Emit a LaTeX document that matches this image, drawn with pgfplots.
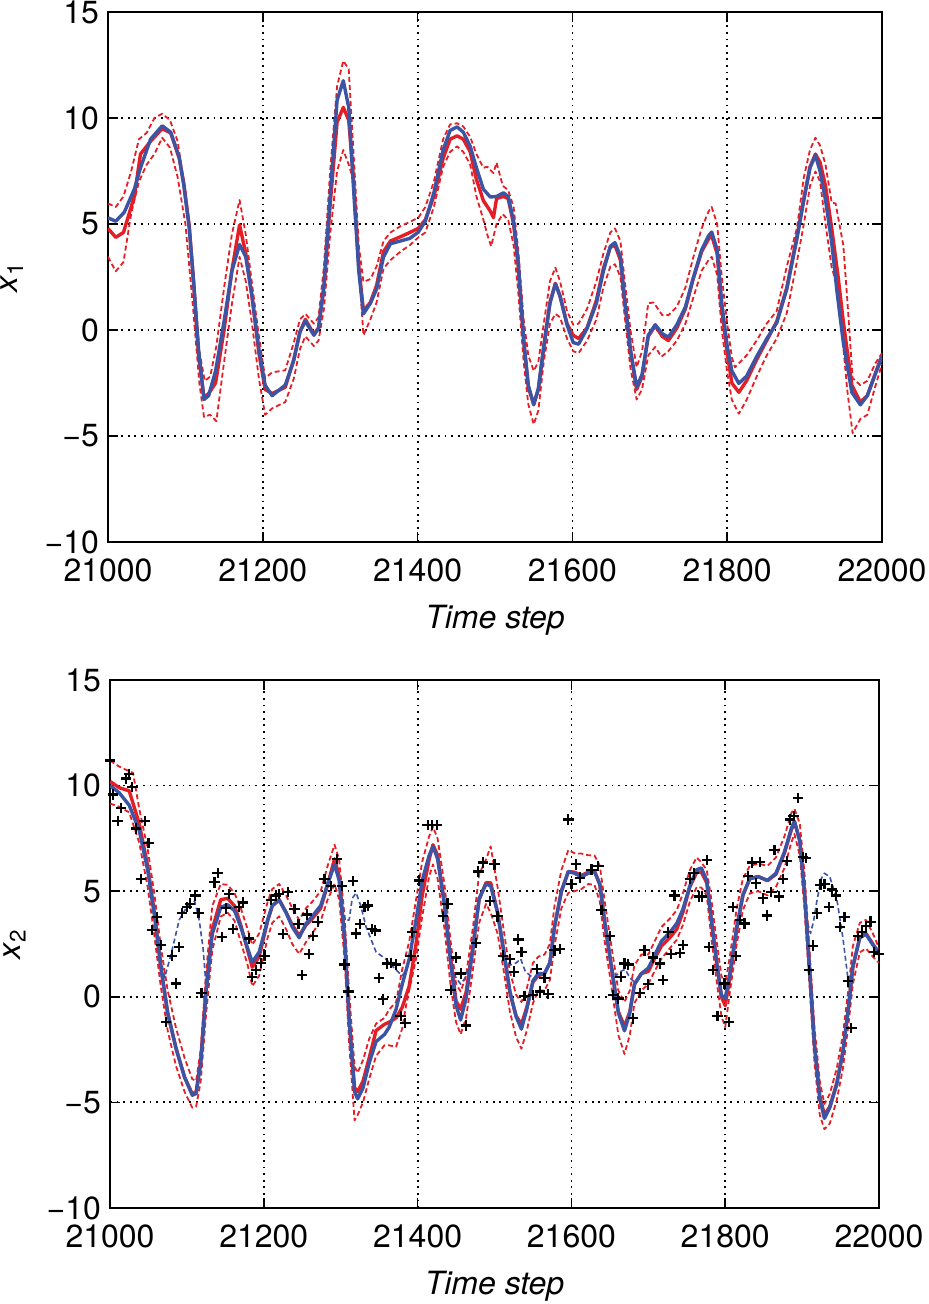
\documentclass[border=0pt]{standalone}
\usepackage{pgfplots}
\pgfplotsset{compat=1.18}
\usepackage{fontspec}
\setmainfont{TeX Gyre Heros}
\definecolor{myred}{RGB}{228,30,36}
\definecolor{myblue}{RGB}{59,84,164}
\pgfplotsset{
  myax/.style={
    scale only axis,
    anchor=south west,
    xmin=21000, xmax=22000, ymin=-10, ymax=15,
    scaled x ticks=false, scaled y ticks=false,
    xtick={21000,21200,21400,21600,21800,22000},
    xticklabels={21000,21200,21400,21600,21800,22000},
    ytick={-10,-5,0,5,10,15},
    yticklabels={−10,−5,0,5,10,15},
    tick align=inside,
    major tick length=5pt,
    tick style={black, line width=0.8pt},
    axis line style={black, line width=1pt},
    grid=major,
    major grid style={black, line width=0.9pt, dash pattern=on 0.9pt off 2.4pt},
    tick label style={font=\fontsize{16}{19}\selectfont},
    xticklabel style={yshift=-5pt},
    yticklabel style={xshift=-1pt},
    label style={font=\fontsize{16}{19}\selectfont},
    xlabel={\textit{Time step}},
    xlabel style={at={(axis description cs:0.5,-0.148)}, anchor=center},
    ylabel style={at={(axis description cs:-0.124,0.5)}, anchor=center},
  },
  every axis plot/.append style={line join=round},
  rdash/.style={myred, line width=0.9pt, dash pattern=on 2.5pt off 1.5pt},
  rsol/.style={myred, line width=1.7pt},
  bsol/.style={myblue, line width=1.7pt},
  bdash/.style={myblue, line width=0.8pt, dash pattern=on 2.5pt off 1.5pt},
}
\begin{document}
\begin{tikzpicture}
\useasboundingbox (0,0) rectangle (464pt,652pt);
% ---------------- top panel ----------------
\begin{axis}[myax, at={(54pt,381pt)}, width=387pt, height=265pt,
  ylabel={\textit{x}\textsubscript{1}}]
\addplot[rdash] table {
x y
21000 5.97
21010 5.8
21020 6.3
21030 7.5
21040 9.0
21050 9.3
21060 10.0
21070 10.2
21080 9.9
21090 8.9
21100 6.5
21110 3.0
21118 -1.0
21125 -2.4
21132 -2.2
21140 -0.76
21150 2.0
21160 4.5
21170 6.13
21178 4.5
21186 2.2
21195 -0.3
21203 -2.27
21212 -2.0
21229 -1.9
21240 -0.6
21248 0.5
21255 0.76
21266 0.3
21272 0.6
21279 3.0
21287 7.5
21296 11.5
21304 12.7
21311 12.3
21317 8.5
21324 4.0
21330 2.27
21339 2.4
21347 3.0
21356 4.2
21365 4.6
21378 4.9
21390 5.1
21401 5.3
21410 5.8
21421 7.0
21433 9.0
21442 9.7
21451 9.75
21459 9.6
21468 9.1
21476 8.3
21485 7.65
21490 7.7
21498 7.4
21502 7.9
21510 6.8
21517 6.6
21524 5.8
21530 3.8
21537 0.5
21543 -1.2
21550 -1.93
21556 -1.5
21563 0.3
21571 2.3
21578 2.94
21584 2.3
21593 0.9
21601 0.25
21608 0.3
21619 1.0
21631 2.3
21640 3.6
21649 4.6
21655 4.79
21662 4.2
21668 2.2
21675 0.0
21683 -1.76
21690 -1.0
21698 1.26
21705 1.3
21716 0.7
21724 0.7
21735 1.1
21746 2.0
21756 3.4
21767 4.8
21776 5.6
21780 5.8
21787 5.0
21793 2.5
21800 0.3
21806 -1.3
21810 -1.76
21825 -1.2
21838 -0.5
21851 0.3
21864 0.9
21877 3.0
21890 4.79
21899 7.2
21907 8.5
21914 9.07
21920 8.7
21927 7.8
21935 6.0
21940 5.97
21950 4.0
21955 1.5
21962 -2.27
21972 -2.6
21981 -2.4
21991 -1.6
22000 -1.09
};
\addplot[rdash] table {
x y
21000 3.45
21010 2.77
21020 3.2
21030 5.5
21040 7.0
21050 7.8
21060 8.3
21070 9.07
21080 8.6
21090 7.2
21100 5.0
21110 1.0
21118 -2.5
21124 -4.1
21132 -4.0
21140 -4.3
21150 -1.5
21160 1.2
21170 3.45
21178 2.3
21186 0.3
21195 -2.3
21203 -4.0
21212 -3.7
21229 -3.4
21240 -2.3
21248 -0.9
21255 -0.3
21266 -0.76
21272 -0.5
21279 1.0
21287 4.5
21296 7.5
21304 8.49
21311 7.8
21317 7.1
21324 3.0
21330 -0.25
21339 0.5
21347 1.3
21356 2.9
21365 3.3
21378 3.7
21390 4.0
21401 4.37
21410 4.6
21421 5.8
21433 7.7
21442 8.4
21451 8.66
21459 8.4
21468 7.8
21476 6.3
21485 5.2
21490 4.5
21495 3.95
21502 5.0
21510 5.46
21517 5.2
21524 4.0
21530 1.8
21537 -1.5
21543 -3.5
21550 -4.45
21556 -3.8
21563 -1.5
21571 0.3
21578 0.76
21584 0.6
21593 -0.4
21601 -1.0
21608 -1.09
21619 -0.5
21631 0.5
21640 2.0
21649 3.0
21655 3.1
21662 2.5
21668 0.5
21675 -1.8
21683 -3.28
21690 -2.8
21698 -1.2
21707 -0.8
21715 -1.26
21724 -1.0
21735 -0.5
21746 0.3
21756 1.5
21767 2.8
21776 3.3
21780 3.45
21787 2.6
21793 0.0
21800 -2.0
21806 -3.3
21815 -3.95
21825 -3.3
21838 -2.2
21851 -1.2
21864 -0.4
21877 0.8
21890 3.2
21899 5.0
21907 6.8
21914 7.48
21920 7.0
21927 5.0
21935 2.94
21943 2.0
21950 -0.8
21955 -2.8
21962 -4.87
21972 -4.2
21981 -4.0
21991 -2.7
22000 -1.6
};
\addplot[rsol] table {
x y
21000 4.79
21010 4.37
21020 4.6
21034 6.3
21042 8.3
21055 8.9
21070 9.5
21081 9.3
21092 8.1
21098 6.9
21105 4.9
21111 2.0
21117 -1.2
21124 -3.2
21130 -3.0
21139 -2.5
21150 0.0
21160 2.8
21170 4.96
21178 3.6
21186 1.6
21195 -1.1
21203 -2.8
21212 -3.0
21229 -2.7
21240 -1.4
21248 -0.1
21255 0.5
21266 -0.2
21272 0.1
21279 2.0
21287 5.9
21296 9.8
21304 10.5
21311 9.9
21317 7.2
21324 3.0
21330 0.9
21339 1.3
21347 2.1
21356 3.7
21365 4.2
21378 4.4
21390 4.6
21401 4.8
21410 5.2
21421 6.3
21433 8.1
21442 9.0
21451 9.16
21459 9.0
21468 8.4
21476 7.1
21485 6.1
21494 5.6
21498 5.3
21502 6.2
21511 6.3
21517 6.2
21524 5.0
21530 3.0
21537 -0.5
21543 -2.7
21550 -3.5
21556 -2.8
21563 -0.8
21571 1.3
21578 2.2
21584 1.6
21593 0.3
21601 -0.25
21608 -0.4
21619 0.1
21631 1.4
21640 2.9
21649 3.9
21655 4.0
21662 3.3
21668 1.2
21675 -1.0
21683 -2.8
21690 -2.2
21698 -0.3
21707 0.2
21716 -0.3
21724 -0.5
21735 0.1
21746 1.0
21756 2.4
21767 3.7
21776 4.3
21780 4.45
21787 3.6
21793 1.0
21800 -1.1
21806 -2.5
21815 -2.94
21825 -2.4
21838 -1.4
21851 -0.5
21864 0.4
21877 2.0
21890 4.4
21899 6.2
21907 7.7
21914 8.3
21920 7.9
21927 6.8
21935 4.8
21943 2.6
21950 0.4
21961 -2.6
21972 -3.4
21981 -3.1
21991 -2.1
22000 -1.2
};
\addplot[bsol] table {
x y
21000 5.29
21010 5.13
21021 5.55
21034 6.64
21042 7.65
21055 9.0
21070 9.63
21081 9.33
21092 8.15
21098 6.8
21105 4.79
21111 2.1
21117 -0.92
21124 -3.28
21130 -3.1
21139 -1.93
21150 0.42
21160 2.77
21170 4.03
21178 3.45
21186 1.6
21195 -0.92
21203 -2.6
21212 -3.1
21229 -2.6
21240 -1.43
21248 -0.08
21255 0.42
21266 -0.25
21272 0.08
21279 2.1
21287 6.3
21296 10.84
21304 11.76
21311 10.5
21317 6.8
21324 2.77
21330 0.76
21339 1.26
21347 1.93
21356 3.45
21365 4.07
21378 4.2
21390 4.32
21401 4.62
21410 5.13
21421 6.47
21433 8.49
21442 9.41
21451 9.58
21459 9.33
21468 8.66
21476 7.65
21485 6.64
21494 6.27
21502 6.3
21511 6.47
21517 6.3
21524 5.13
21530 3.2
21537 -0.42
21543 -2.6
21550 -3.53
21556 -2.77
21563 -0.76
21571 1.26
21578 2.18
21584 1.6
21593 0.25
21601 -0.59
21608 -0.67
21619 0.08
21631 1.26
21640 2.77
21649 3.95
21655 4.12
21662 3.45
21668 1.26
21675 -0.92
21683 -2.69
21690 -2.1
21698 -0.25
21707 0.25
21716 -0.17
21724 -0.34
21735 0.25
21746 1.09
21756 2.44
21767 3.78
21776 4.45
21780 4.62
21787 3.78
21793 1.26
21800 -0.76
21806 -1.93
21815 -2.52
21825 -2.18
21838 -1.26
21851 -0.42
21864 0.34
21877 1.93
21890 4.29
21899 6.13
21907 7.65
21914 8.24
21920 7.48
21927 6.13
21935 4.12
21942 1.76
21950 -0.59
21961 -2.94
21972 -3.53
21981 -3.1
21991 -2.1
22000 -1.26
};
\end{axis}
% ---------------- bottom panel ----------------
\begin{axis}[myax, at={(55pt,48pt)}, width=384.5pt, height=264pt,
  ylabel={\textit{x}\textsubscript{2}}]
\addplot[rdash] table {
x y
21000 11.19
21012 10.9
21025 10.68
21030 10.6
21038 8.9
21049 7.0
21058 4.8
21066 2.4
21075 0.3
21086 -1.5
21097 -2.9
21107 -3.9
21112 -3.98
21118 -2.5
21125 1.2
21133 4.3
21144 5.34
21153 5.3
21162 4.9
21170 4.2
21179 3.2
21185 2.46
21194 3.0
21205 4.5
21211 5.1
21220 5.34
21229 4.8
21237 4.2
21246 3.64
21255 4.2
21263 4.5
21274 5.0
21283 6.2
21292 7.2
21298 6.5
21305 3.8
21311 0.2
21318 -3.3
21322 -3.6
21329 -3.0
21337 -2.0
21346 -1.27
21357 -1.0
21363 -0.6
21372 -0.25
21380 1.3
21389 2.6
21398 4.6
21406 6.4
21415 7.6
21420 8.05
21426 7.5
21435 5.3
21443 2.6
21450 0.6
21456 0.25
21463 1.0
21472 3.3
21480 5.8
21489 6.5
21495 7.12
21504 5.2
21513 2.9
21520 1.2
21528 0.1
21535 -0.25
21542 0.4
21550 1.6
21557 1.9
21565 2.0
21572 2.5
21578 4.3
21587 6.0
21596 6.95
21604 6.8
21613 6.78
21622 6.7
21630 6.69
21637 6.2
21643 4.6
21652 2.4
21661 0.3
21669 -0.25
21676 0.3
21682 1.5
21691 2.0
21700 2.0
21708 2.6
21717 3.3
21728 3.7
21737 4.1
21745 4.9
21754 6.0
21763 6.6
21769 6.36
21776 6.0
21782 4.6
21789 2.6
21795 1.0
21800 0.59
21806 1.9
21815 4.2
21823 5.6
21832 6.2
21843 6.3
21855 6.2
21866 6.6
21877 7.6
21886 8.7
21890 8.9
21897 8.2
21903 5.9
21910 2.0
21916 -1.4
21923 -4.0
21929 -5.08
21936 -4.6
21945 -3.4
21953 -1.8
21960 0.3
21966 2.4
21975 3.5
21983 3.64
21992 3.0
22000 2.3
};
\addplot[rdash] table {
x y
21000 9.15
21012 9.0
21025 8.73
21038 7.3
21049 5.2
21058 2.8
21066 0.5
21075 -1.6
21086 -3.3
21097 -4.5
21107 -5.25
21112 -5.2
21118 -4.0
21125 -0.8
21133 2.2
21144 3.8
21153 3.98
21162 3.6
21170 2.6
21179 1.5
21185 0.5
21194 1.0
21205 2.8
21211 3.5
21220 3.81
21229 3.2
21237 2.5
21246 2.03
21255 2.6
21263 3.0
21274 3.6
21283 4.6
21292 5.34
21298 4.6
21305 1.8
21311 -2.2
21318 -5.85
21322 -5.6
21329 -5.0
21337 -3.9
21346 -2.8
21357 -2.29
21363 -2.3
21372 -2.37
21380 -1.5
21385 -0.42
21389 0.3
21398 1.8
21406 3.8
21415 5.7
21420 6.27
21426 5.6
21435 3.2
21443 0.5
21450 -1.2
21456 -1.78
21463 -1.0
21472 1.3
21480 3.5
21489 4.4
21495 3.98
21504 3.0
21513 1.0
21520 -0.7
21528 -1.9
21535 -2.46
21542 -1.6
21550 -0.3
21557 0.3
21565 0.3
21572 0.8
21578 2.4
21587 4.2
21596 4.92
21604 5.0
21613 5.1
21622 5.34
21630 5.3
21637 4.5
21643 2.7
21652 0.5
21661 -1.8
21669 -2.71
21676 -1.8
21682 -0.3
21691 0.3
21700 0.6
21708 1.2
21717 1.8
21728 2.3
21737 2.7
21745 3.4
21754 4.5
21763 5.2
21769 5.17
21776 4.8
21782 2.8
21789 0.7
21795 -0.9
21800 -1.44
21806 0.2
21815 2.5
21823 4.1
21832 4.9
21843 5.0
21855 4.8
21866 5.2
21877 6.1
21886 7.3
21890 7.71
21897 6.7
21903 4.2
21910 0.3
21916 -3.1
21923 -5.6
21929 -6.27
21936 -6.0
21945 -4.9
21953 -3.4
21960 -1.4
21966 0.6
21975 2.1
21983 2.29
21992 1.9
22000 1.6
};
\addplot[rsol] table {
x y
21000 10.2
21012 9.9
21025 9.75
21038 8.2
21049 6.2
21058 3.9
21066 1.44
21075 -0.76
21086 -2.46
21097 -3.81
21107 -4.6
21112 -4.5
21118 -3.0
21125 0.4
21133 3.2
21144 4.6
21153 4.66
21162 4.3
21170 3.4
21179 2.2
21185 1.4
21194 1.9
21205 3.6
21211 4.3
21220 4.6
21229 4.0
21237 3.4
21246 2.9
21255 3.4
21263 3.7
21274 4.2
21283 5.3
21292 6.53
21298 5.7
21305 2.8
21311 -1.0
21318 -4.3
21322 -4.49
21329 -4.0
21337 -2.9
21346 -1.6
21357 -1.3
21363 -1.2
21372 -1.0
21380 -0.5
21389 0.5
21398 2.5
21406 4.8
21415 6.5
21420 7.2
21426 6.7
21435 4.4
21443 1.8
21450 -0.2
21456 -0.59
21463 0.2
21472 2.4
21480 4.6
21489 5.4
21495 5.4
21504 4.0
21513 1.9
21520 0.2
21528 -0.9
21535 -1.3
21542 -0.5
21550 0.7
21557 1.0
21565 1.1
21572 1.6
21578 3.3
21587 5.0
21596 5.93
21604 5.9
21613 5.75
21622 5.9
21630 5.95
21637 5.3
21643 3.6
21652 1.4
21661 -0.7
21669 -1.4
21676 -0.7
21682 0.6
21691 1.1
21700 1.2
21708 1.8
21717 2.4
21728 2.8
21737 3.2
21745 4.0
21754 5.2
21763 5.9
21769 5.9
21776 5.4
21782 3.6
21789 1.6
21795 0.0
21800 -0.42
21806 0.9
21815 3.2
21823 4.8
21832 5.6
21843 5.7
21855 5.5
21866 5.8
21877 6.8
21886 7.9
21890 8.3
21897 7.4
21903 5.0
21910 1.2
21916 -2.2
21923 -4.7
21929 -5.6
21936 -5.2
21945 -4.1
21953 -2.6
21960 -0.6
21966 1.4
21975 2.8
21983 3.0
21992 2.5
22000 2.0
};
\addplot[bsol] table {
x y
21000 10.0
21012 9.66
21025 9.07
21038 7.88
21049 6.0
21058 3.8
21066 1.44
21075 -0.76
21086 -2.46
21097 -3.81
21107 -4.66
21112 -4.58
21118 -3.14
21125 0.25
21133 2.97
21144 4.24
21153 4.36
21162 4.07
21170 3.31
21179 2.29
21185 1.64
21194 2.12
21205 3.64
21211 4.32
21220 4.58
21229 3.98
21237 3.31
21246 2.8
21255 3.47
21263 3.81
21274 4.32
21283 5.34
21292 6.27
21298 5.51
21305 2.8
21311 -1.1
21318 -4.49
21322 -4.83
21329 -4.32
21337 -3.14
21346 -2.12
21357 -1.78
21363 -1.44
21372 -0.59
21380 0.59
21389 1.78
21398 3.64
21406 5.51
21415 6.69
21420 7.12
21426 6.53
21435 4.32
21443 1.61
21450 -0.42
21456 -1.1
21463 -0.08
21472 2.29
21480 4.66
21489 5.34
21495 5.25
21504 3.98
21513 1.95
21520 0.25
21528 -0.93
21535 -1.53
21542 -0.59
21550 0.76
21557 1.1
21565 1.1
21572 1.61
21578 3.31
21587 5.0
21596 5.93
21604 5.85
21613 5.68
21622 5.85
21630 5.93
21637 5.34
21643 3.64
21652 1.44
21661 -0.76
21669 -1.61
21676 -0.76
21682 0.59
21691 1.1
21700 1.36
21708 1.95
21717 2.63
21728 3.05
21737 3.47
21745 4.15
21754 5.25
21763 6.02
21769 6.1
21776 5.51
21782 3.64
21789 1.61
21795 0.08
21800 -0.08
21806 1.1
21815 3.31
21823 4.83
21832 5.59
21843 5.68
21855 5.51
21866 5.85
21877 6.86
21886 7.97
21890 8.31
21897 7.37
21903 5.0
21910 1.1
21916 -2.29
21923 -4.83
21929 -5.76
21936 -5.25
21945 -4.15
21953 -2.63
21960 -0.59
21966 1.44
21975 2.8
21983 2.97
21992 2.46
22000 2.12
};
\addplot[bdash] table {
x y
21062 2.6
21071 0.9
21079 1.95
21090 3.64
21101 4.32
21110 4.53
21116 3.64
21121 2.3
21125 0.5
};
\addplot[bdash] table {
x y
21300 5.0
21306 3.6
21311 3.64
21315 4.66
21320 4.92
21326 4.32
21333 3.31
21346 2.12
21359 1.78
21372 1.27
21380 1.0
21386 1.3
};
\addplot[bdash] table {
x y
21440 2.2
21445 1.3
21450 0.9
21456 0.6
21462 0.9
21468 1.6
};
\addplot[bdash] table {
x y
21513 1.95
21520 1.5
21528 1.6
21534 1.8
21540 1.2
21550 0.9
};
\addplot[bdash] table {
x y
21652 1.44
21658 1.0
21664 1.2
21670 1.3
21676 0.9
21682 0.7
};
\addplot[bdash] table {
x y
21903 5.0
21907 3.5
21911 3.0
21915 3.6
21919 4.5
21925 5.6
21929 5.85
21936 5.68
21945 4.66
21953 2.8
21960 0.76
21964 0.3
};
\addplot[only marks, mark=+, black, mark size=2.6pt, mark options={line width=1.1pt}] table {
x y
21000 11.19
21004 9.58
21010 8.31
21014 8.93
21021 10.34
21025 10.56
21029 9.92
21034 7.97
21045 8.31
21050 7.29
21040 5.59
21055 3.17
21061 3.76
21066 2.46
21073 -1.19
21081 1.95
21086 0.63
21090 2.37
21094 3.98
21100 4.24
21104 4.41
21111 4.8
21115 3.98
21119 0.17
21136 5.42
21140 5.85
21146 2.83
21151 4.19
21155 4.86
21160 3.22
21168 4.24
21173 4.46
21181 2.76
21185 0.93
21190 1.27
21196 1.61
21201 1.95
21209 4.58
21216 4.8
21220 4.86
21225 2.97
21231 4.97
21240 4.15
21245 3.44
21250 1.02
21256 3.9
21259 2.03
21264 2.88
21270 3.56
21279 5.59
21287 5.25
21295 6.53
21302 5.25
21305 1.53
21310 0.25
21316 5.47
21320 3.0
21325 3.44
21331 4.24
21335 4.32
21341 3.22
21345 3.14
21350 0.9
21355 -0.12
21360 1.58
21365 1.61
21372 1.53
21378 -0.9
21384 -1.24
21391 1.95
21393 3.05
21402 5.51
21413 8.14
21419 8.14
21425 8.14
21433 3.81
21439 4.41
21443 0.31
21450 1.86
21456 1.1
21463 -1.36
21476 2.54
21479 5.93
21485 6.36
21494 4.53
21500 6.27
21504 3.81
21511 1.95
21520 1.78
21525 1.19
21531 2.71
21535 2.12
21539 0.05
21550 0.08
21559 0.25
21570 0.12
21555 1.31
21565 0.9
21578 2.2
21585 2.25
21596 8.39
21600 5.34
21606 6.27
21611 5.64
21626 6.02
21635 6.19
21639 4.12
21650 2.88
21654 0.08
21661 -0.08
21664 0.93
21669 1.58
21674 1.53
21680 -1.02
21689 0.17
21695 2.2
21700 0.59
21706 1.86
21715 1.58
21719 0.8
21726 3.05
21730 2.03
21734 4.8
21741 2.08
21745 2.46
21754 5.59
21759 5.85
21766 4.75
21770 4.75
21776 6.49
21779 2.37
21784 1.27
21790 -0.9
21799 0.63
21805 -1.19
21810 4.24
21814 1.92
21819 3.64
21825 3.47
21830 5.71
21835 6.36
21840 5.37
21845 6.39
21849 4.66
21854 3.85
21860 4.97
21864 6.95
21870 4.75
21875 5.59
21880 6.44
21884 8.39
21889 8.56
21895 9.41
21901 6.61
21905 6.56
21909 1.27
21914 2.42
21919 3.95
21924 5.31
21929 5.34
21935 4.24
21939 5.08
21944 4.8
21949 3.31
21955 3.78
21960 0.73
21964 -1.47
21973 2.88
21978 3.05
21983 3.34
21989 3.56
21994 2.12
22000 2.03
};
\end{axis}
\end{tikzpicture}
\end{document}
